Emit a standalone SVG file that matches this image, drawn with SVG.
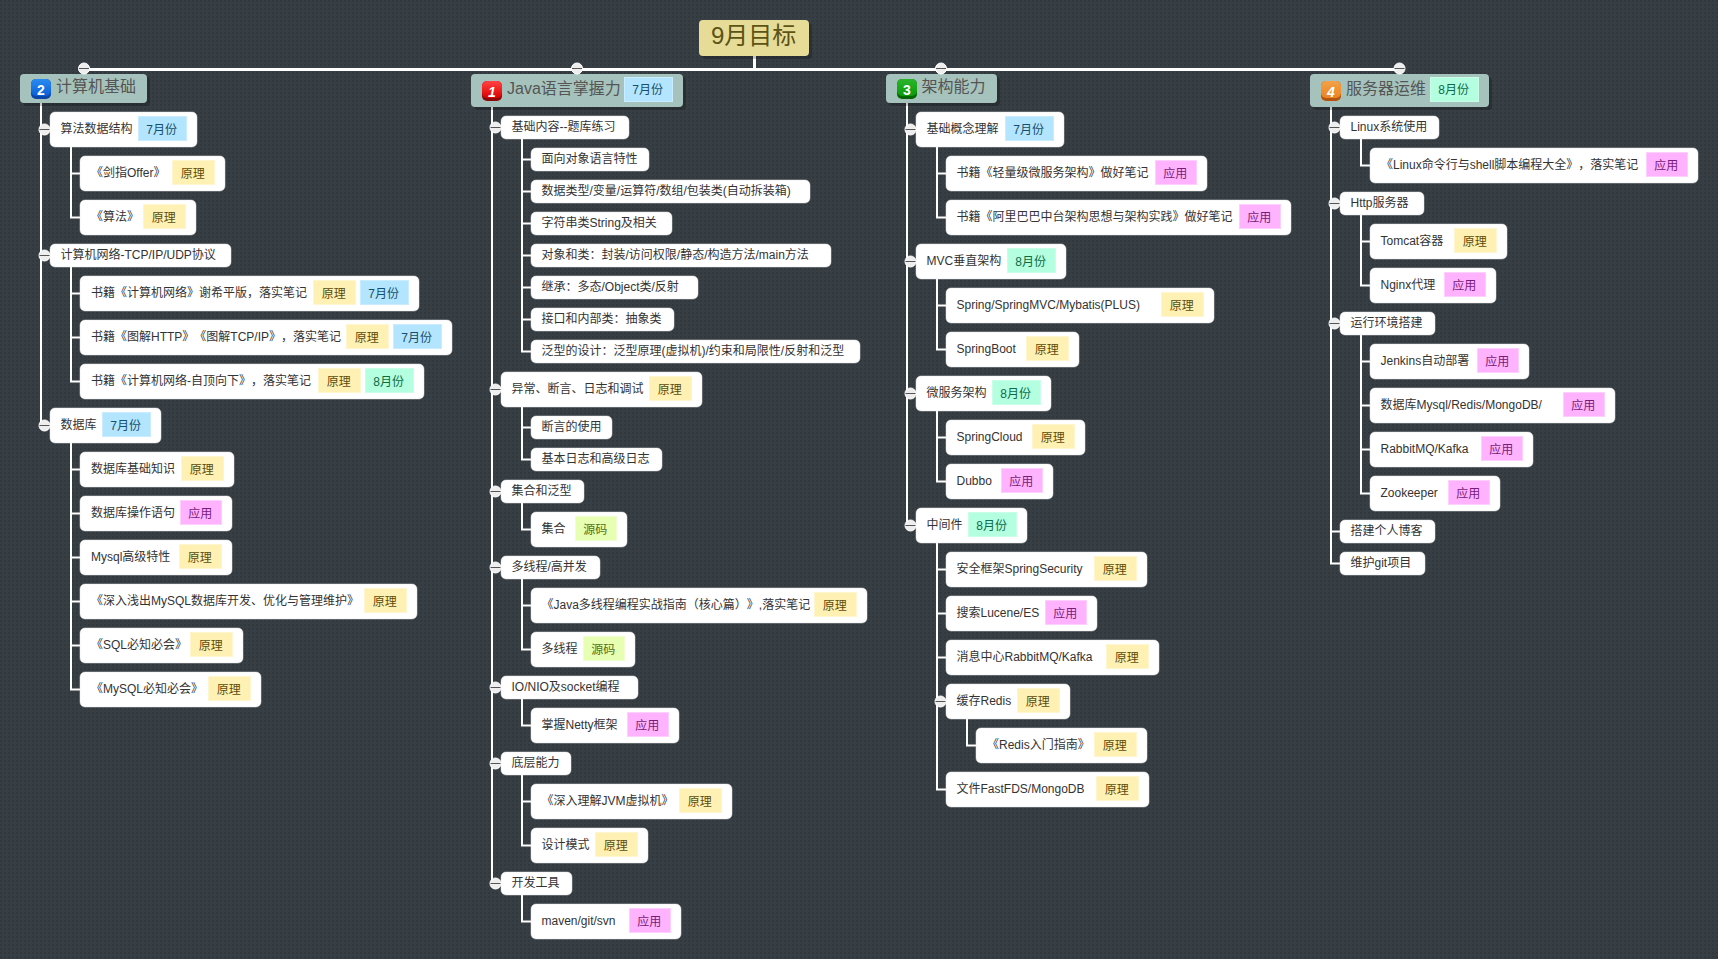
<svg xmlns="http://www.w3.org/2000/svg" width="1718" height="959" viewBox="0 0 1718 959">
<style>
text{font-family:"Liberation Sans","Noto Sans CJK SC",sans-serif;font-size:12px;fill:#333;text-spacing-trim:space-all}
.n{fill:#fff;stroke:#e6e6e6;stroke-width:.5}
.s{fill:#000;fill-opacity:.22}
.b{fill:#a5c3bc}
.bt{font-size:16px;fill:#555}
.r{fill:#e6dc98}
.rt{font-size:24px;fill:#5c5314}
.ty{fill:#fff1b3;stroke:#fff6d0}.tyt{fill:#5c4d0c;text-anchor:middle;transform:translateX(-.8px)}
.tb{fill:#b3e5ff;stroke:#c9edff}.tbt{fill:#174e6b;text-anchor:middle;transform:translateX(-.8px)}
.tg{fill:#b3ffe0;stroke:#c9ffe9}.tgt{fill:#0c6b45;text-anchor:middle;transform:translateX(-.8px)}
.tp{fill:#ffb3ff;stroke:#ffd0ff}.tpt{fill:#7a1a7a;text-anchor:middle;transform:translateX(-.8px)}
.tl{fill:#e6ffb3;stroke:#efffd0}.tlt{fill:#56700f;text-anchor:middle;transform:translateX(-.8px)}
.c{fill:none;stroke:#fff;stroke-width:2}
.c3{fill:none;stroke:#fff;stroke-width:3}
.k{fill:#eee;stroke:#fff;stroke-width:1}
.m{stroke:#555;stroke-width:1}
.d{font-size:14px;font-weight:bold;fill:#fff;text-anchor:middle}
.i{font-style:italic}
</style>
<defs>
<pattern id="bg" width="4" height="4" patternUnits="userSpaceOnUse"><rect width="4" height="4" fill="#373e44"/><rect width="2" height="2" fill="#32393e"/></pattern>
<linearGradient id="g1" x1="0" y1="0" x2="0" y2="1"><stop offset="0" stop-color="#f44"/><stop offset="1" stop-color="#d00"/></linearGradient>
<linearGradient id="g2" x1="0" y1="0" x2="0" y2="1"><stop offset="0" stop-color="#2a8cf0"/><stop offset="1" stop-color="#0a5fd8"/></linearGradient>
<linearGradient id="g3" x1="0" y1="0" x2="0" y2="1"><stop offset="0" stop-color="#2cb52c"/><stop offset="1" stop-color="#0a9a0a"/></linearGradient>
<linearGradient id="g4" x1="0" y1="0" x2="0" y2="1"><stop offset="0" stop-color="#f2a24a"/><stop offset="1" stop-color="#ec8320"/></linearGradient>
</defs>
<rect width="1718" height="959" fill="url(#bg)"/>
<g id="connectors">
<path class="c3" d="M754.5,56V69.5M84,69.5H1400"/>
<path class="c" d="M84,69V74M577,69V74M941,69V74M1400,69V74"/>
<path class="c" d="M41,103V425.5M41,129.5H50M41,255.5H50M41,425.5H50"/>
<path class="c" d="M71,147V217.5H80M71,173.5H80"/>
<path class="c" d="M71,267V381.5H80M71,293.5H80M71,337.5H80"/>
<path class="c" d="M71,443V689.5H80M71,469.5H80M71,513.5H80M71,557.5H80M71,601.5H80M71,645.5H80"/>
<path class="c" d="M492,107V883.5M492,127.5H501M492,389.5H501M492,491.5H501M492,567.5H501M492,687.5H501M492,763.5H501M492,883.5H501"/>
<path class="c" d="M522,139V351.5H531M522,159.5H531M522,191.5H531M522,223.5H531M522,255.5H531M522,287.5H531M522,319.5H531"/>
<path class="c" d="M522,407V459.5H531M522,427.5H531"/>
<path class="c" d="M522,503V529.5H531"/>
<path class="c" d="M522,579V649.5H531M522,605.5H531"/>
<path class="c" d="M522,699V725.5H531"/>
<path class="c" d="M522,775V845.5H531M522,801.5H531"/>
<path class="c" d="M522,895V921.5H531"/>
<path class="c" d="M907,103V525.5M907,129.5H916M907,261.5H916M907,393.5H916M907,525.5H916"/>
<path class="c" d="M937,147V217.5H946M937,173.5H946"/>
<path class="c" d="M937,279V349.5H946M937,305.5H946"/>
<path class="c" d="M937,411V481.5H946M937,437.5H946"/>
<path class="c" d="M937,543V789.5H946M937,569.5H946M937,613.5H946M937,657.5H946M937,701.5H946"/>
<path class="c" d="M967,719V745.5H976"/>
<path class="c" d="M1331,107V563.5H1340M1331,127.5H1340M1331,203.5H1340M1331,323.5H1340M1331,531.5H1340"/>
<path class="c" d="M1361,139V165.5H1370"/>
<path class="c" d="M1361,215V285.5H1370M1361,241.5H1370"/>
<path class="c" d="M1361,335V493.5H1370M1361,361.5H1370M1361,405.5H1370M1361,449.5H1370"/>
</g>
<g id="root"><rect class="s" x="702" y="23" width="110" height="36" rx="4"/><rect class="r" x="699" y="20" width="110" height="36" rx="4"/><text class="rt" x="711" y="44">9月目标</text></g>
<g id="b1"><rect class="s" x="23" y="77" width="127" height="29" rx="4"/><rect class="b" x="20" y="74" width="127" height="29" rx="4"/><rect x="31" y="79" width="20" height="20" rx="5" fill="#0a46a8"/><rect x="31" y="79" width="20" height="17" rx="5" fill="url(#g2)"/><text class="d" x="41" y="94.5">2</text><text class="bt" x="56" y="92">计算机基础</text></g>
<g id="b2"><rect class="s" x="474" y="77" width="212" height="33" rx="4"/><rect class="b" x="471" y="74" width="212" height="33" rx="4"/><rect x="482" y="81" width="20" height="20" rx="5" fill="#8c0a0a"/><rect x="482" y="81" width="20" height="17" rx="5" fill="url(#g1)"/><text class="d i" x="492" y="96.5">1</text><text class="bt" x="507" y="94">Java语言掌握力</text><rect class="tb" x="624.5" y="77.5" width="48" height="24"/><text class="tbt" x="648.5" y="94">7月份</text></g>
<g id="b3"><rect class="s" x="889" y="77" width="111" height="29" rx="4"/><rect class="b" x="886" y="74" width="111" height="29" rx="4"/><rect x="897" y="79" width="20" height="20" rx="5" fill="#056605"/><rect x="897" y="79" width="20" height="17" rx="5" fill="url(#g3)"/><text class="d" x="907" y="94.5">3</text><text class="bt" x="921.5" y="92">架构能力</text></g>
<g id="b4"><rect class="s" x="1313" y="77" width="179" height="33" rx="4"/><rect class="b" x="1310" y="74" width="179" height="33" rx="4"/><rect x="1321" y="81" width="20" height="20" rx="5" fill="#b4540f"/><rect x="1321" y="81" width="20" height="17" rx="5" fill="url(#g4)"/><text class="d i" x="1331" y="96.5">4</text><text class="bt" x="1346" y="94">服务器运维</text><rect class="tg" x="1430.5" y="77.5" width="48" height="24"/><text class="tgt" x="1454.5" y="94">8月份</text></g>

<g id="n101"><rect class="n" x="50" y="112" width="147" height="35" rx="5"/><text x="60.5" y="133">算法数据结构</text><rect class="tb" x="138.5" y="116.5" width="48" height="24"/><text class="tbt" x="162.5" y="134">7月份</text></g>
<g id="n102"><rect class="n" x="80" y="156" width="145" height="35" rx="5"/><text x="91" y="177">《剑指Offer》</text><rect class="ty" x="172.5" y="160.5" width="42" height="24"/><text class="tyt" x="193.5" y="178">原理</text></g>
<g id="n103"><rect class="n" x="80" y="200" width="116" height="35" rx="5"/><text x="91" y="221.4">《算法》</text><rect class="ty" x="143.5" y="204.5" width="42" height="24"/><text class="tyt" x="164.5" y="222">原理</text></g>
<g id="n104"><rect class="n" x="50" y="244" width="181" height="23" rx="5"/><text x="60.5" y="259">计算机网络-TCP/IP/UDP协议</text></g>
<g id="n105"><rect class="n" x="80" y="276" width="339" height="35" rx="5"/><text x="91" y="297">书籍《计算机网络》谢希平版，落实笔记</text><rect class="ty" x="313.5" y="280.5" width="42" height="24"/><text class="tyt" x="334.5" y="298">原理</text><rect class="tb" x="360.5" y="280.5" width="48" height="24"/><text class="tbt" x="384.5" y="298">7月份</text></g>
<g id="n106"><rect class="n" x="80" y="320" width="372" height="35" rx="5"/><text x="91" y="341">书籍《图解HTTP》《图解TCP/IP》，落实笔记</text><rect class="ty" x="346.5" y="324.5" width="42" height="24"/><text class="tyt" x="367.5" y="342">原理</text><rect class="tb" x="393.5" y="324.5" width="48" height="24"/><text class="tbt" x="417.5" y="342">7月份</text></g>
<g id="n107"><rect class="n" x="80" y="364" width="344" height="35" rx="5"/><text x="91" y="385">书籍《计算机网络-自顶向下》，落实笔记</text><rect class="ty" x="318.5" y="368.5" width="42" height="24"/><text class="tyt" x="339.5" y="386">原理</text><rect class="tg" x="365.5" y="368.5" width="48" height="24"/><text class="tgt" x="389.5" y="386">8月份</text></g>
<g id="n108"><rect class="n" x="50" y="408" width="111" height="35" rx="5"/><text x="60.5" y="429">数据库</text><rect class="tb" x="102.5" y="412.5" width="48" height="24"/><text class="tbt" x="126.5" y="430">7月份</text></g>
<g id="n109"><rect class="n" x="80" y="452" width="154" height="35" rx="5"/><text x="91" y="473">数据库基础知识</text><rect class="ty" x="181.5" y="456.5" width="42" height="24"/><text class="tyt" x="202.5" y="474">原理</text></g>
<g id="n110"><rect class="n" x="80" y="496" width="152" height="35" rx="5"/><text x="91" y="517">数据库操作语句</text><rect class="tp" x="180.5" y="500.5" width="41" height="24"/><text class="tpt" x="201" y="518">应用</text></g>
<g id="n111"><rect class="n" x="80" y="540" width="152" height="35" rx="5"/><text x="91" y="561">Mysql高级特性</text><rect class="ty" x="179.5" y="544.5" width="42" height="24"/><text class="tyt" x="200.5" y="562">原理</text></g>
<g id="n112"><rect class="n" x="80" y="584" width="337" height="35" rx="5"/><text x="91" y="605">《深入浅出MySQL数据库开发、优化与管理维护》</text><rect class="ty" x="364.5" y="588.5" width="42" height="24"/><text class="tyt" x="385.5" y="606">原理</text></g>
<g id="n113"><rect class="n" x="80" y="628" width="163" height="35" rx="5"/><text x="91" y="649">《SQL必知必会》</text><rect class="ty" x="190.5" y="632.5" width="42" height="24"/><text class="tyt" x="211.5" y="650">原理</text></g>
<g id="n114"><rect class="n" x="80" y="672" width="181" height="35" rx="5"/><text x="91" y="693">《MySQL必知必会》</text><rect class="ty" x="208.5" y="676.5" width="42" height="24"/><text class="tyt" x="229.5" y="694">原理</text></g>

<g id="n201"><rect class="n" x="501" y="116" width="128" height="23" rx="5"/><text x="511.5" y="131">基础内容--题库练习</text></g>
<g id="n202"><rect class="n" x="531" y="148" width="118" height="23" rx="5"/><text x="541.5" y="163">面向对象语言特性</text></g>
<g id="n203"><rect class="n" x="531" y="180" width="279" height="23" rx="5"/><text x="541.5" y="195">数据类型/变量/运算符/数组/包装类(自动拆装箱)</text></g>
<g id="n204"><rect class="n" x="531" y="212" width="141" height="23" rx="5"/><text x="541.5" y="227">字符串类String及相关</text></g>
<g id="n205"><rect class="n" x="531" y="244" width="300" height="23" rx="5"/><text x="541.5" y="259">对象和类：封装/访问权限/静态/构造方法/main方法</text></g>
<g id="n206"><rect class="n" x="531" y="276" width="167" height="23" rx="5"/><text x="541.5" y="291">继承：多态/Object类/反射</text></g>
<g id="n207"><rect class="n" x="531" y="308" width="143" height="23" rx="5"/><text x="541.5" y="323.4">接口和内部类：抽象类</text></g>
<g id="n208"><rect class="n" x="531" y="340" width="329" height="23" rx="5"/><text x="541.5" y="355.4">泛型的设计：泛型原理(虚拟机)/约束和局限性/反射和泛型</text></g>
<g id="n209"><rect class="n" x="501" y="372" width="201" height="35" rx="5"/><text x="511.5" y="393">异常、断言、日志和调试</text><rect class="ty" x="649.5" y="376.5" width="42" height="24"/><text class="tyt" x="670.5" y="394">原理</text></g>
<g id="n210"><rect class="n" x="531" y="416" width="81" height="23" rx="5"/><text x="541.5" y="431">断言的使用</text></g>
<g id="n211"><rect class="n" x="531" y="448" width="131" height="23" rx="5"/><text x="541.5" y="463">基本日志和高级日志</text></g>
<g id="n212"><rect class="n" x="501" y="480" width="83" height="23" rx="5"/><text x="511.5" y="495">集合和泛型</text></g>
<g id="n213"><rect class="n" x="531" y="512" width="96" height="35" rx="5"/><text x="541.5" y="533">集合</text><rect class="tl" x="575.5" y="516.5" width="41" height="24"/><text class="tlt" x="596" y="534">源码</text></g>
<g id="n214"><rect class="n" x="501" y="556" width="99" height="23" rx="5"/><text x="511.5" y="571">多线程/高并发</text></g>
<g id="n215"><rect class="n" x="531" y="588" width="336" height="35" rx="5"/><text x="541.5" y="609">《Java多线程编程实战指南（核心篇）》,落实笔记</text><rect class="ty" x="814.5" y="592.5" width="42" height="24"/><text class="tyt" x="835.5" y="610">原理</text></g>
<g id="n216"><rect class="n" x="531" y="632" width="104" height="35" rx="5"/><text x="541.5" y="653">多线程</text><rect class="tl" x="583.5" y="636.5" width="41" height="24"/><text class="tlt" x="604" y="654">源码</text></g>
<g id="n217"><rect class="n" x="501" y="676" width="137" height="23" rx="5"/><text x="511.5" y="691">IO/NIO及socket编程</text></g>
<g id="n218"><rect class="n" x="531" y="708" width="148" height="35" rx="5"/><text x="541.5" y="729">掌握Netty框架</text><rect class="tp" x="627.5" y="712.5" width="41" height="24"/><text class="tpt" x="648" y="730">应用</text></g>
<g id="n219"><rect class="n" x="501" y="752" width="70" height="23" rx="5"/><text x="511.5" y="767">底层能力</text></g>
<g id="n220"><rect class="n" x="531" y="784" width="201" height="35" rx="5"/><text x="541.5" y="805">《深入理解JVM虚拟机》</text><rect class="ty" x="679.5" y="788.5" width="42" height="24"/><text class="tyt" x="700.5" y="806">原理</text></g>
<g id="n221"><rect class="n" x="531" y="828" width="117" height="35" rx="5"/><text x="541.5" y="849">设计模式</text><rect class="ty" x="595.5" y="832.5" width="42" height="24"/><text class="tyt" x="616.5" y="850">原理</text></g>
<g id="n222"><rect class="n" x="501" y="872" width="71" height="23" rx="5"/><text x="511.5" y="887">开发工具</text></g>
<g id="n223"><rect class="n" x="531" y="904" width="150" height="35" rx="5"/><text x="541.5" y="925">maven/git/svn</text><rect class="tp" x="629.5" y="908.5" width="41" height="24"/><text class="tpt" x="650" y="926">应用</text></g>

<g id="n301"><rect class="n" x="916" y="112" width="148" height="35" rx="5"/><text x="926.5" y="133">基础概念理解</text><rect class="tb" x="1005.5" y="116.5" width="48" height="24"/><text class="tbt" x="1029.5" y="134">7月份</text></g>
<g id="n302"><rect class="n" x="946" y="156" width="261" height="35" rx="5"/><text x="956.5" y="177">书籍《轻量级微服务架构》做好笔记</text><rect class="tp" x="1155.5" y="160.5" width="41" height="24"/><text class="tpt" x="1176" y="178">应用</text></g>
<g id="n303"><rect class="n" x="946" y="200" width="345" height="35" rx="5"/><text x="956.5" y="221.4">书籍《阿里巴巴中台架构思想与架构实践》做好笔记</text><rect class="tp" x="1239.5" y="204.5" width="41" height="24"/><text class="tpt" x="1260" y="222">应用</text></g>
<g id="n304"><rect class="n" x="916" y="244" width="150" height="35" rx="5"/><text x="926.5" y="265">MVC垂直架构</text><rect class="tg" x="1007.5" y="248.5" width="48" height="24"/><text class="tgt" x="1031.5" y="266">8月份</text></g>
<g id="n305"><rect class="n" x="946" y="288" width="268" height="35" rx="5"/><text x="956.5" y="309">Spring/SpringMVC/Mybatis(PLUS)</text><rect class="ty" x="1161.5" y="292.5" width="42" height="24"/><text class="tyt" x="1182.5" y="310">原理</text></g>
<g id="n306"><rect class="n" x="946" y="332" width="133" height="35" rx="5"/><text x="956.5" y="353">SpringBoot</text><rect class="ty" x="1026.5" y="336.5" width="42" height="24"/><text class="tyt" x="1047.5" y="354">原理</text></g>
<g id="n307"><rect class="n" x="916" y="376" width="135" height="35" rx="5"/><text x="926.5" y="397">微服务架构</text><rect class="tg" x="992.5" y="380.5" width="48" height="24"/><text class="tgt" x="1016.5" y="398">8月份</text></g>
<g id="n308"><rect class="n" x="946" y="420" width="139" height="35" rx="5"/><text x="956.5" y="441">SpringCloud</text><rect class="ty" x="1032.5" y="424.5" width="42" height="24"/><text class="tyt" x="1053.5" y="442">原理</text></g>
<g id="n309"><rect class="n" x="946" y="464" width="107" height="35" rx="5"/><text x="956.5" y="485">Dubbo</text><rect class="tp" x="1001.5" y="468.5" width="41" height="24"/><text class="tpt" x="1022" y="486">应用</text></g>
<g id="n310"><rect class="n" x="916" y="508" width="111" height="35" rx="5"/><text x="926.5" y="529">中间件</text><rect class="tg" x="968.5" y="512.5" width="48" height="24"/><text class="tgt" x="992.5" y="530">8月份</text></g>
<g id="n311"><rect class="n" x="946" y="552" width="201" height="35" rx="5"/><text x="956.5" y="573">安全框架SpringSecurity</text><rect class="ty" x="1094.5" y="556.5" width="42" height="24"/><text class="tyt" x="1115.5" y="574">原理</text></g>
<g id="n312"><rect class="n" x="946" y="596" width="151" height="35" rx="5"/><text x="956.5" y="617">搜索Lucene/ES</text><rect class="tp" x="1045.5" y="600.5" width="41" height="24"/><text class="tpt" x="1066" y="618">应用</text></g>
<g id="n313"><rect class="n" x="946" y="640" width="213" height="35" rx="5"/><text x="956.5" y="661">消息中心RabbitMQ/Kafka</text><rect class="ty" x="1106.5" y="644.5" width="42" height="24"/><text class="tyt" x="1127.5" y="662">原理</text></g>
<g id="n314"><rect class="n" x="946" y="684" width="124" height="35" rx="5"/><text x="956.5" y="705">缓存Redis</text><rect class="ty" x="1017.5" y="688.5" width="42" height="24"/><text class="tyt" x="1038.5" y="706">原理</text></g>
<g id="n315"><rect class="n" x="976" y="728" width="171" height="35" rx="5"/><text x="987" y="749">《Redis入门指南》</text><rect class="ty" x="1094.5" y="732.5" width="42" height="24"/><text class="tyt" x="1115.5" y="750">原理</text></g>
<g id="n316"><rect class="n" x="946" y="772" width="203" height="35" rx="5"/><text x="956.5" y="793">文件FastFDS/MongoDB</text><rect class="ty" x="1096.5" y="776.5" width="42" height="24"/><text class="tyt" x="1117.5" y="794">原理</text></g>

<g id="n401"><rect class="n" x="1340" y="116" width="99" height="23" rx="5"/><text x="1350.5" y="131">Linux系统使用</text></g>
<g id="n402"><rect class="n" x="1370" y="148" width="328" height="35" rx="5"/><text x="1381" y="169">《Linux命令行与shell脚本编程大全》，落实笔记</text><rect class="tp" x="1646.5" y="152.5" width="41" height="24"/><text class="tpt" x="1667" y="170">应用</text></g>
<g id="n403"><rect class="n" x="1340" y="192" width="84" height="23" rx="5"/><text x="1350.5" y="207">Http服务器</text></g>
<g id="n404"><rect class="n" x="1370" y="224" width="137" height="35" rx="5"/><text x="1380.5" y="245">Tomcat容器</text><rect class="ty" x="1454.5" y="228.5" width="42" height="24"/><text class="tyt" x="1475.5" y="246">原理</text></g>
<g id="n405"><rect class="n" x="1370" y="268" width="126" height="35" rx="5"/><text x="1380.5" y="289">Nginx代理</text><rect class="tp" x="1444.5" y="272.5" width="41" height="24"/><text class="tpt" x="1465" y="290">应用</text></g>
<g id="n406"><rect class="n" x="1340" y="312" width="95" height="23" rx="5"/><text x="1350.5" y="327">运行环境搭建</text></g>
<g id="n407"><rect class="n" x="1370" y="344" width="159" height="35" rx="5"/><text x="1380.5" y="365">Jenkins自动部署</text><rect class="tp" x="1477.5" y="348.5" width="41" height="24"/><text class="tpt" x="1498" y="366">应用</text></g>
<g id="n408"><rect class="n" x="1370" y="388" width="245" height="35" rx="5"/><text x="1380.5" y="409">数据库Mysql/Redis/MongoDB/</text><rect class="tp" x="1563.5" y="392.5" width="41" height="24"/><text class="tpt" x="1584" y="410">应用</text></g>
<g id="n409"><rect class="n" x="1370" y="432" width="163" height="35" rx="5"/><text x="1380.5" y="453">RabbitMQ/Kafka</text><rect class="tp" x="1481.5" y="436.5" width="41" height="24"/><text class="tpt" x="1502" y="454">应用</text></g>
<g id="n410"><rect class="n" x="1370" y="476" width="130" height="35" rx="5"/><text x="1380.5" y="497">Zookeeper</text><rect class="tp" x="1448.5" y="480.5" width="41" height="24"/><text class="tpt" x="1469" y="498">应用</text></g>
<g id="n411"><rect class="n" x="1340" y="520" width="95" height="23" rx="5"/><text x="1350.5" y="535.4">搭建个人博客</text></g>
<g id="n412"><rect class="n" x="1340" y="552" width="85" height="23" rx="5"/><text x="1350.5" y="567">维护git项目</text></g>

<g id="toggles">
<g><circle class="k" cx="84" cy="68.5" r="5.5"/><path class="m" d="M79,68.5H89"/></g>
<g><circle class="k" cx="577" cy="68.5" r="5.5"/><path class="m" d="M572,68.5H582"/></g>
<g><circle class="k" cx="941" cy="68.5" r="5.5"/><path class="m" d="M936,68.5H946"/></g>
<g><circle class="k" cx="1399.5" cy="68.5" r="5.5"/><path class="m" d="M1394.5,68.5H1404.5"/></g>
<g><circle class="k" cx="44.5" cy="129.5" r="5.5"/><path class="m" d="M39.5,129.5H49.5"/></g>
<g><circle class="k" cx="44.5" cy="255.5" r="5.5"/><path class="m" d="M39.5,255.5H49.5"/></g>
<g><circle class="k" cx="44.5" cy="425.5" r="5.5"/><path class="m" d="M39.5,425.5H49.5"/></g>
<g><circle class="k" cx="495.5" cy="127.5" r="5.5"/><path class="m" d="M490.5,127.5H500.5"/></g>
<g><circle class="k" cx="495.5" cy="389.5" r="5.5"/><path class="m" d="M490.5,389.5H500.5"/></g>
<g><circle class="k" cx="495.5" cy="491.5" r="5.5"/><path class="m" d="M490.5,491.5H500.5"/></g>
<g><circle class="k" cx="495.5" cy="567.5" r="5.5"/><path class="m" d="M490.5,567.5H500.5"/></g>
<g><circle class="k" cx="495.5" cy="687.5" r="5.5"/><path class="m" d="M490.5,687.5H500.5"/></g>
<g><circle class="k" cx="495.5" cy="763.5" r="5.5"/><path class="m" d="M490.5,763.5H500.5"/></g>
<g><circle class="k" cx="495.5" cy="883.5" r="5.5"/><path class="m" d="M490.5,883.5H500.5"/></g>
<g><circle class="k" cx="910.5" cy="129.5" r="5.5"/><path class="m" d="M905.5,129.5H915.5"/></g>
<g><circle class="k" cx="910.5" cy="261.5" r="5.5"/><path class="m" d="M905.5,261.5H915.5"/></g>
<g><circle class="k" cx="910.5" cy="393.5" r="5.5"/><path class="m" d="M905.5,393.5H915.5"/></g>
<g><circle class="k" cx="910.5" cy="525.5" r="5.5"/><path class="m" d="M905.5,525.5H915.5"/></g>
<g><circle class="k" cx="940.5" cy="701.5" r="5.5"/><path class="m" d="M935.5,701.5H945.5"/></g>
<g><circle class="k" cx="1334.5" cy="127.5" r="5.5"/><path class="m" d="M1329.5,127.5H1339.5"/></g>
<g><circle class="k" cx="1334.5" cy="203.5" r="5.5"/><path class="m" d="M1329.5,203.5H1339.5"/></g>
<g><circle class="k" cx="1334.5" cy="323.5" r="5.5"/><path class="m" d="M1329.5,323.5H1339.5"/></g>
</g>
</svg>
